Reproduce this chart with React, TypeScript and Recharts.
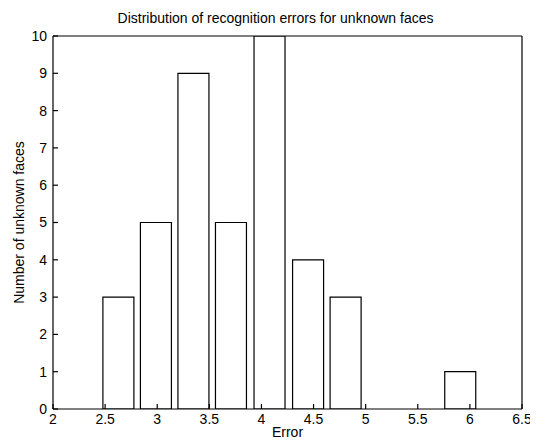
import { ComposedChart, Bar, XAxis, YAxis } from "recharts";

// histogram bin centres and counts
const binCenters = [2.63, 2.99, 3.35, 3.71, 4.08, 4.45, 4.81, 5.18, 5.54, 5.91];
const counts = [3, 5, 9, 5, 10, 4, 3, 0, 0, 1];

const xTicks = [2, 2.5, 3, 3.5, 4, 4.5, 5, 5.5, 6, 6.5];
const yTicks = [0, 1, 2, 3, 4, 5, 6, 7, 8, 9, 10];

const data = binCenters.map((x, i) => ({ x, count: counts[i] }));

const FONT = "'Liberation Sans', Arial, sans-serif";
const tickStyle = { fontSize: 14, fill: "#000", fontFamily: FONT };
const axisLine = { stroke: "#000", strokeWidth: 1.2 };

function YLabel({ viewBox }: any) {
  const cx = viewBox.x + 11;
  const cy = viewBox.y + viewBox.height / 2;
  return (
    <text
      x={cx}
      y={cy}
      transform={`rotate(-90 ${cx} ${cy})`}
      textAnchor="middle"
      dominantBaseline="central"
      style={{ fontSize: 14, fill: "#000", fontFamily: FONT }}
    >
      Number of unknown faces
    </text>
  );
}

function XLabel({ viewBox }: any) {
  const cx = viewBox.x + viewBox.width / 2;
  return (
    <text
      x={cx}
      y={viewBox.y + 23}
      textAnchor="middle"
      dominantBaseline="central"
      style={{ fontSize: 14, fill: "#000", fontFamily: FONT }}
    >
      Error
    </text>
  );
}

export default function App() {
  return (
    <div style={{ position: "relative", width: 530, height: 436, background: "#fff" }}>
      <div
        style={{
          position: "absolute",
          top: 2,
          left: 45,
          width: 469,
          textAlign: "center",
          fontSize: 14,
          fontFamily: FONT,
          color: "#000",
          marginLeft: -12,
        }}
      >
        Distribution of recognition errors for unknown faces
      </div>
      <ComposedChart
        width={530}
        height={436}
        data={data}
        margin={{ top: 27, right: 15, bottom: 0, left: 0 }}
      >
        <XAxis
          dataKey="x"
          type="number"
          domain={[2, 6.5]}
          ticks={xTicks}
          allowDataOverflow
          height={35}
          tickSize={-5}
          tickMargin={10}
          tick={tickStyle}
          axisLine={axisLine}
          tickLine={axisLine}
          interval={0}
          label={<XLabel />}
        />
        <XAxis
          xAxisId="top"
          orientation="top"
          dataKey="x"
          type="number"
          domain={[2, 6.5]}
          ticks={xTicks}
          allowDataOverflow
          height={1}
          tickSize={-5}
          tick={false}
          axisLine={axisLine}
          tickLine={axisLine}
          interval={0}
        />
        <YAxis
          type="number"
          domain={[0, 10]}
          ticks={yTicks}
          allowDataOverflow
          width={45}
          tickSize={-5}
          tickMargin={11}
          tick={tickStyle}
          axisLine={axisLine}
          tickLine={axisLine}
          interval={0}
          label={<YLabel />}
        />
        <YAxis
          yAxisId="right"
          orientation="right"
          type="number"
          domain={[0, 10]}
          ticks={yTicks}
          allowDataOverflow
          width={1}
          tickSize={-5}
          tick={false}
          axisLine={axisLine}
          tickLine={axisLine}
          interval={0}
        />
        <Bar
          dataKey="count"
          fill="#fff"
          stroke="#000"
          strokeWidth={1.2}
          barSize={31}
          isAnimationActive={false}
        />
      </ComposedChart>
    </div>
  );
}
